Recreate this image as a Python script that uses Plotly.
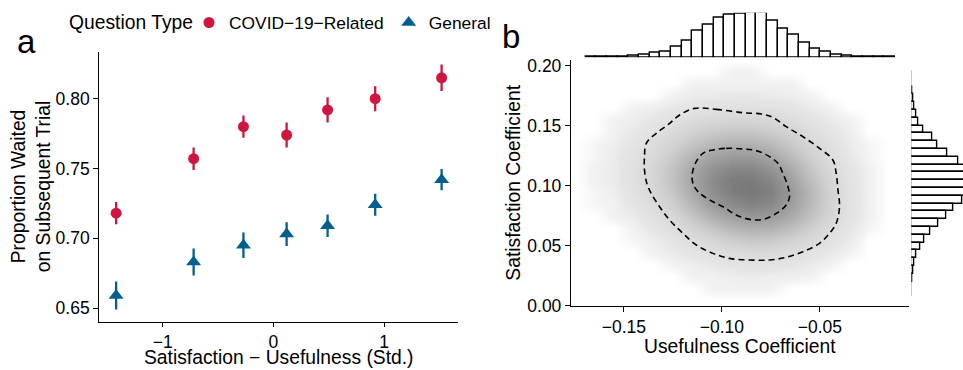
import plotly.graph_objects as go

W, H = 963, 370
FONT = "Liberation Sans, Arial, Helvetica, sans-serif"
RED = "#D0163F"
BLUE = "#02608E"
TICK_SIZE = 17.5
TITLE_SIZE = 19.3
LEGEND_ITEM_SIZE = 17.4

# ---------------- Panel a data ----------------
sat_use_x = [-1.42, -0.72, -0.27, 0.12, 0.49, 0.92, 1.52]
covid_y = [0.718, 0.757, 0.780, 0.774, 0.792, 0.800, 0.815]
covid_err = [0.008, 0.008, 0.008, 0.009, 0.009, 0.009, 0.0095]
general_y = [0.659, 0.683, 0.695, 0.703, 0.709, 0.724, 0.742]
general_err = [0.010, 0.0097, 0.0091, 0.0085, 0.0081, 0.0079, 0.0076]
a_xticks = [-1, 0, 1]
a_xticktext = ["\u22121", "0", "1"]
a_yticks = [0.65, 0.70, 0.75, 0.80]
a_yticktext = ["0.65", "0.70", "0.75", "0.80"]

# ---------------- Panel b data ----------------
# hexbin density (approximate) on a coarse grid
dens_x = [-0.175, -0.165, -0.155, -0.145, -0.135, -0.125, -0.115, -0.105, -0.095,
          -0.085, -0.075, -0.065, -0.055, -0.045, -0.035, -0.025, -0.015]
dens_y = [0.205, 0.195, 0.185, 0.175, 0.165, 0.155, 0.145, 0.135, 0.125, 0.115,
          0.105, 0.095, 0.085, 0.075, 0.065, 0.055, 0.045, 0.035, 0.025, 0.015, 0.005]
dens_z = [
    [0, 0, 0, 0, 0, 0, 0, 0, 0, 0, 0, 0, 0, 0, 0, 0, 0],
    [0, 0, 0, 0, 0, 0, 0, 0, 0.3, 0.3, 0, 0, 0, 0, 0, 0, 0],
    [0, 0, 0, 0, 0, 0, 0.3, 0.3, 0.3, 0.3, 0.3, 0.3, 0, 0, 0, 0, 0],
    [0, 0, 0, 0, 0, 0.3, 0.5, 0.5, 0.6, 0.6, 0.5, 0.4, 0.3, 0, 0, 0, 0],
    [0, 0, 0, 0.3, 0.4, 0.6, 0.8, 1.0, 1.1, 1.1, 1.0, 0.8, 0.5, 0.3, 0, 0, 0],
    [0, 0, 0.3, 0.4, 0.7, 1.1, 1.5, 1.8, 2.0, 2.0, 1.8, 1.4, 0.9, 0.5, 0.3, 0, 0],
    [0, 0, 0.3, 0.6, 1.0, 1.6, 2.3, 2.8, 3.0, 3.0, 2.7, 2.1, 1.4, 0.8, 0.4, 0, 0],
    [0, 0.2, 0.4, 0.8, 1.4, 2.2, 3.1, 3.8, 4.2, 4.2, 3.7, 2.8, 1.9, 1.1, 0.5, 0.2, 0],
    [0, 0.2, 0.5, 1.0, 1.7, 2.8, 4.0, 5.0, 5.5, 5.5, 4.8, 3.6, 2.4, 1.4, 0.6, 0.2, 0],
    [0, 0.3, 0.5, 1.1, 2.0, 3.2, 4.8, 6.0, 6.8, 6.8, 6.0, 4.5, 3.0, 1.7, 0.8, 0.3, 0],
    [0, 0.3, 0.5, 1.1, 2.0, 3.3, 5.0, 6.5, 7.5, 7.6, 6.8, 5.2, 3.5, 2.0, 0.9, 0.3, 0],
    [0, 0.2, 0.4, 1.0, 1.8, 3.0, 4.7, 6.3, 7.4, 7.8, 7.2, 5.6, 3.9, 2.2, 1.0, 0.3, 0],
    [0, 0.2, 0.3, 0.8, 1.5, 2.5, 4.0, 5.5, 6.6, 7.1, 6.7, 5.4, 3.8, 2.2, 1.0, 0.3, 0],
    [0, 0, 0.3, 0.5, 1.1, 1.9, 3.1, 4.4, 5.3, 5.8, 5.6, 4.6, 3.3, 2.0, 0.9, 0.3, 0],
    [0, 0, 0, 0.3, 0.7, 1.3, 2.2, 3.1, 3.9, 4.3, 4.2, 3.5, 2.5, 1.5, 0.7, 0.2, 0],
    [0, 0, 0, 0.2, 0.4, 0.8, 1.4, 2.0, 2.6, 2.9, 2.8, 2.3, 1.7, 1.0, 0.5, 0, 0],
    [0, 0, 0, 0, 0.3, 0.5, 0.8, 1.2, 1.5, 1.7, 1.7, 1.4, 1.0, 0.6, 0.3, 0, 0],
    [0, 0, 0, 0, 0, 0.3, 0.4, 0.6, 0.8, 0.9, 0.9, 0.7, 0.5, 0.3, 0, 0, 0],
    [0, 0, 0, 0, 0, 0, 0.3, 0.3, 0.4, 0.5, 0.4, 0.4, 0.3, 0, 0, 0, 0],
    [0, 0, 0, 0, 0, 0, 0, 0.3, 0.3, 0.3, 0.3, 0, 0, 0, 0, 0, 0],
    [0, 0, 0, 0, 0, 0, 0, 0, 0, 0, 0, 0, 0, 0, 0, 0, 0],
]

# density contours (dashed)
outer_x = [-0.1140, -0.1029, -0.0893, -0.0799, -0.0740, -0.0672, -0.0587, -0.0502,
           -0.0434, -0.0417, -0.0408, -0.0400, -0.0417, -0.0451, -0.0502, -0.0587,
           -0.0672, -0.0757, -0.0859, -0.0961, -0.1046, -0.1131, -0.1199, -0.1267,
           -0.1318, -0.1361, -0.1383, -0.1395, -0.1395, -0.1386, -0.1335, -0.1267,
           -0.1216, -0.1140]
outer_y = [0.1644, 0.1636, 0.1608, 0.1597, 0.1569, 0.1492, 0.1408, 0.1311,
           0.1214, 0.1103, 0.0964, 0.0825, 0.0686, 0.0603, 0.0519, 0.0450,
           0.0403, 0.0381, 0.0381, 0.0394, 0.0436, 0.0506, 0.0603, 0.0714,
           0.0825, 0.0936, 0.1019, 0.1131, 0.1242, 0.1353, 0.1436, 0.1519,
           0.1589, 0.1644]
inner_x = [-0.1046, -0.0978, -0.0893, -0.0825, -0.0757, -0.0714, -0.0689, -0.0663,
           -0.0655, -0.0672, -0.0723, -0.0791, -0.0859, -0.0927, -0.0995, -0.1063,
           -0.1122, -0.1148, -0.1151, -0.1131, -0.1097, -0.1046]
inner_y = [0.1297, 0.1311, 0.1306, 0.1292, 0.1242, 0.1186, 0.1103, 0.0992,
           0.0908, 0.0839, 0.0769, 0.0719, 0.0719, 0.0756, 0.0825, 0.0881,
           0.0950, 0.1019, 0.1103, 0.1200, 0.1269, 0.1297]

# marginal histograms
top_bin_centers = [-0.1668, -0.1614, -0.1559, -0.1505, -0.1450, -0.1396, -0.1342, -0.1287,
                   -0.1233, -0.1178, -0.1124, -0.1070, -0.1015, -0.0961, -0.0906, -0.0852,
                   -0.0797, -0.0743, -0.0689, -0.0634, -0.0580, -0.0525, -0.0471, -0.0416,
                   -0.0362, -0.0308, -0.0253, -0.0199, -0.0144]
top_counts = [1, 2, 3, 6, 12, 25, 39, 52, 100, 154, 239, 300, 357, 390, 400, 405,
              405, 332, 257, 202, 133, 82, 51, 27, 15, 5, 3, 2, 1]
top_bin_width = 0.00544

right_bin_centers = [0.1923, 0.1858, 0.1793, 0.1728, 0.1663, 0.1598, 0.1533, 0.1468,
                     0.1403, 0.1338, 0.1273, 0.1208, 0.1143, 0.1078, 0.1013, 0.0948,
                     0.0883, 0.0818, 0.0753, 0.0688, 0.0623, 0.0558, 0.0493, 0.0428,
                     0.0363, 0.0298, 0.0233, 0.0168, 0.0103]
right_counts = [1, 3, 5, 12, 22, 32, 47, 81, 139, 178, 243, 316, 372, 392, 392, 365,
                343, 284, 237, 183, 128, 88, 61, 34, 20, 11, 7, 3, 2]
right_bin_width = 0.0065

b_xticks = [-0.15, -0.10, -0.05]
b_xticktext = ["\u22120.15", "\u22120.10", "\u22120.05"]
b_yticks = [0.00, 0.05, 0.10, 0.15, 0.20]
b_yticktext = ["0.00", "0.05", "0.10", "0.15", "0.20"]


def px_x(p):
    return p / W


def px_y(p):
    return 1 - p / H


fig = go.Figure()

# ---- panel a traces
fig.add_trace(go.Scatter(
    x=sat_use_x, y=covid_y, mode="markers", name="COVID\u221219\u2212Related",
    marker=dict(color=RED, size=11, symbol="circle"),
    error_y=dict(type="data", array=covid_err, color=RED, thickness=2.3, width=0),
    xaxis="x", yaxis="y"))
fig.add_trace(go.Scatter(
    x=sat_use_x, y=general_y, mode="markers", name="General",
    marker=dict(color=BLUE, size=13, symbol="triangle-up"),
    error_y=dict(type="data", array=general_err, color=BLUE, thickness=2.3, width=0),
    xaxis="x", yaxis="y"))

# ---- panel b traces
fig.add_trace(go.Heatmap(
    x=dens_x, y=dens_y[::-1], z=dens_z[::-1], zsmooth="best",
    zmin=0, zmax=8, showscale=False, hoverinfo="skip",
    colorscale=[[0, "rgba(255,255,255,1)"], [0.03, "#f3f3f3"], [0.08, "#e6e6e6"],
                [0.3, "#d0d0d0"], [0.6, "#a7a7a7"], [1, "#747474"]],
    xaxis="x2", yaxis="y2", showlegend=False))
fig.add_trace(go.Scatter(
    x=outer_x, y=outer_y, mode="lines", line=dict(color="black", width=1.6, dash="6px,4px", shape="spline"),
    xaxis="x2", yaxis="y2", showlegend=False, hoverinfo="skip"))
fig.add_trace(go.Scatter(
    x=inner_x, y=inner_y, mode="lines", line=dict(color="black", width=1.6, dash="6px,4px", shape="spline"),
    xaxis="x2", yaxis="y2", showlegend=False, hoverinfo="skip"))

fig.add_trace(go.Bar(
    x=top_bin_centers, y=top_counts, width=top_bin_width,
    marker=dict(color="white", line=dict(color="black", width=1.4)),
    xaxis="x3", yaxis="y3", showlegend=False))
fig.add_trace(go.Bar(
    y=right_bin_centers, x=right_counts, width=right_bin_width, orientation="h",
    marker=dict(color="white", line=dict(color="black", width=1.4)),
    xaxis="x4", yaxis="y4", showlegend=False))

axis_common = dict(showline=True, linecolor="black", linewidth=1.3, ticks="outside",
                   tickwidth=1.3, tickcolor="black", showgrid=False, automargin=False,
                   zeroline=False, tickfont=dict(family=FONT, size=TICK_SIZE, color="black"))

b_xrange = [-0.177, -0.0047]
b_yrange = [0.0, 0.2047]

title_font = dict(family=FONT, size=TITLE_SIZE, color="black")

fig.update_layout(
    template="none",
    width=W, height=H, margin=dict(l=0, r=0, t=0, b=0, pad=0, autoexpand=False),
    paper_bgcolor="white", plot_bgcolor="rgba(0,0,0,0)",
    font=dict(family=FONT, size=TICK_SIZE, color="black"),
    bargap=0,
    xaxis=dict(domain=[px_x(99.3), px_x(458)], range=[-1.572, 1.668], ticklen=4,
               tickvals=a_xticks, ticktext=a_xticktext, anchor="y", **axis_common),
    yaxis=dict(domain=[px_y(321.7), px_y(51.7)], range=[0.6402, 0.8337], ticklen=5,
               tickvals=a_yticks, ticktext=a_yticktext, anchor="x", **axis_common),
    xaxis2=dict(domain=[px_x(571), px_x(908.7)], range=b_xrange, ticklen=5,
                tickvals=b_xticks, ticktext=b_xticktext, anchor="y2", **axis_common),
    yaxis2=dict(domain=[px_y(305.7), px_y(60)], range=b_yrange, ticklen=5,
                tickvals=b_yticks, ticktext=b_yticktext, anchor="x2", **axis_common),
    xaxis3=dict(domain=[px_x(571), px_x(908.7)], range=b_xrange, anchor="y3",
                visible=False),
    yaxis3=dict(domain=[px_y(57.3), px_y(12.7)], range=[0, max(top_counts)],
                anchor="x3", visible=False),
    xaxis4=dict(domain=[px_x(911.3), 1.0], range=[0, 349.5], anchor="y4",
                visible=False),
    yaxis4=dict(domain=[px_y(305.7), px_y(60)], range=b_yrange, anchor="x4",
                visible=False),
    legend=dict(orientation="h", x=px_x(189), y=px_y(22.7), xanchor="left",
                yanchor="middle", bgcolor="rgba(0,0,0,0)", borderwidth=0,
                font=dict(family=FONT, size=LEGEND_ITEM_SIZE, color="black"),
                itemwidth=30),
    annotations=[
        dict(text="Question Type", x=px_x(67), y=px_y(22.7), xref="paper", yref="paper",
             showarrow=False, font=title_font, xanchor="left", yanchor="middle"),
        dict(text="a", x=px_x(26), y=px_y(42), xref="paper", yref="paper",
             showarrow=False, font=dict(family=FONT, size=33, color="black"),
             xanchor="center", yanchor="middle"),
        dict(text="b", x=px_x(511), y=px_y(37), xref="paper", yref="paper",
             showarrow=False, font=dict(family=FONT, size=33, color="black"),
             xanchor="center", yanchor="middle"),
        dict(text="Proportion Waited<br>on Subsequent Trial", x=px_x(30.5), y=px_y(186.7),
             xref="paper", yref="paper", showarrow=False, textangle=-90,
             font=title_font, xanchor="center", yanchor="middle"),
        dict(text="Satisfaction \u2212 Usefulness (Std.)", x=px_x(278.8), y=px_y(357.3),
             xref="paper", yref="paper", showarrow=False,
             font=title_font, xanchor="center", yanchor="middle"),
        dict(text="Satisfaction Coefficient", x=px_x(512.7), y=px_y(183),
             xref="paper", yref="paper", showarrow=False, textangle=-90,
             font=title_font, xanchor="center", yanchor="middle"),
        dict(text="Usefulness Coefficient", x=px_x(740), y=px_y(346.5),
             xref="paper", yref="paper", showarrow=False,
             font=title_font, xanchor="center", yanchor="middle"),
    ],
)

fig.write_html("out.html")
